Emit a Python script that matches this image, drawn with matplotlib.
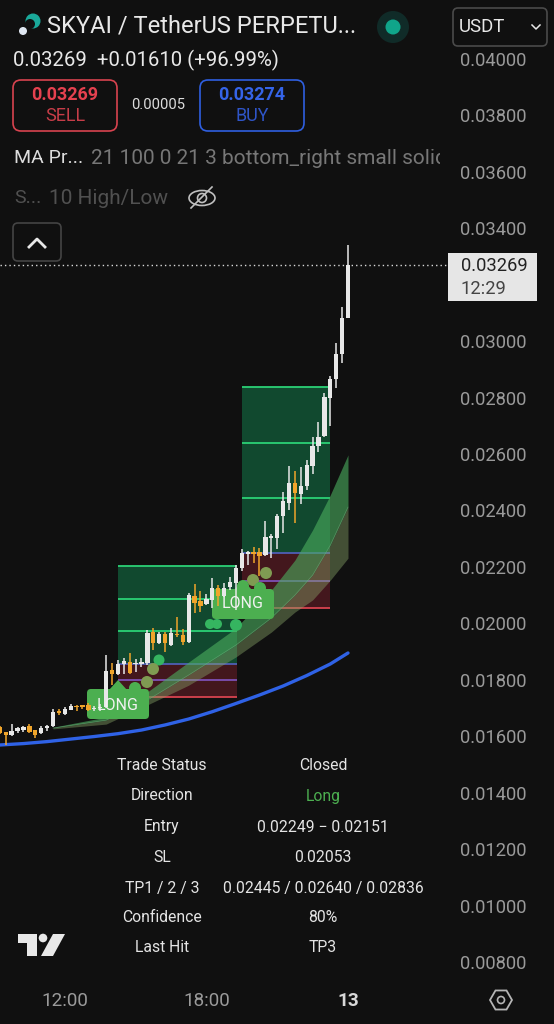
import matplotlib
matplotlib.use("Agg")
import matplotlib.pyplot as plt
from matplotlib.patches import FancyBboxPatch, Circle, Ellipse, Polygon, Rectangle, RegularPolygon

plt.rcParams['font.family'] = ['Roboto', 'DejaVu Sans']

# 15m candles, index 59 is the 00:00 bar of the 13th
opens = [.01631, .01615, .01604, .01618, .01622, .01636, .01622, .01610, .01628, .01636,
         .01689, .01680, .01694, .01708, .01709, .01711, .01695, .01699, .01705, .01835,
         .01820, .01856, .01864, .01855, .01856, .01858, .01969, .01931, .01962, .01923,
         .01964, .01960, .01933, .02097, .02079, .02067, .02083, .02126, .02098, .02130,
         .02144, .02195, .02246, .02254, .02254, .02243, .02301, .02302, .02381, .02426,
         .02499, .02459, .02487, .02559, .02629, .02665, .02800, .02866, .02953, .03083]
highs = [.01636, .01615, .01643, .01634, .01637, .01644, .01622, .01637, .01640, .01696,
         .01698, .01702, .01715, .01711, .01712, .01719, .01707, .01713, .01888, .01858,
         .01870, .01879, .01894, .01872, .01879, .01976, .01982, .01970, .01970, .01982,
         .02021, .01979, .02109, .02139, .02114, .02104, .02161, .02136, .02144, .02163,
         .02207, .02263, .02258, .02271, .02266, .02364, .02315, .02388, .02464, .02558,
         .02541, .02553, .02579, .02660, .02712, .02817, .02877, .02992, .03120, .03340]
lows = [.01608, .01569, .01601, .01610, .01615, .01610, .01594, .01608, .01618, .01634,
        .01675, .01676, .01693, .01690, .01695, .01688, .01690, .01690, .01699, .01781,
        .01817, .01820, .01820, .01829, .01846, .01852, .01905, .01927, .01899, .01921,
        .01953, .01922, .01931, .02035, .02041, .02064, .02054, .02061, .02092, .02118,
        .02047, .02184, .02207, .02213, .02168, .02237, .02231, .02264, .02319, .02400,
        .02355, .02423, .02473, .02529, .02608, .02660, .02699, .02835, .02921, .03083]
closes = [.01610, .01603, .01620, .01628, .01631, .01615, .01604, .01630, .01635, .01685,
          .01681, .01696, .01708, .01703, .01703, .01693, .01700, .01705, .01831, .01820,
          .01857, .01866, .01823, .01861, .01862, .01967, .01931, .01962, .01929, .01967,
          .01959, .01934, .02099, .02073, .02061, .02085, .02126, .02097, .02127, .02145,
          .02197, .02249, .02254, .02246, .02239, .02305, .02308, .02379, .02432, .02499,
          .02461, .02487, .02560, .02627, .02660, .02803, .02867, .02953, .03082, .03269]

ma_idx = [0, 4, 8, 12, 16, 20, 24, 28, 32, 36, 40, 44, 48, 52, 56, 59]
ma_blue = [.01569, .01574, .01581, .01590, .01599, .01609, .01622, .01640,
           .01661, .01687, .01716, .01746, .01778, .01815, .01856, .01895]

band_idx = [9, 18, 25, 32, 40, 46, 50, 53, 56, 59]
band_upper = [.01632, .01668, .01757, .01863, .01983, .02118, .02224, .02331, .02455, .02597]
band_mid = [.01629, .01657, .01728, .01817, .01923, .02019, .02100, .02171, .02277, .02412]
band_lower = [.01626, .01643, .01711, .01781, .01881, .01969, .02040, .02083, .02153, .02231]

# start, end, tp3, tp2, tp1, entry high, entry low, sl
trade1 = [20, 40.2, .02203, .02086, .01972, .01855, .01798, .01740]
trade2 = [41, 56, .02836, .02640, .02445, .02249, .02151, .02053]

# 0.03200 sits behind the last price tag in the app, so it is not listed
price_ticks = [.04, .038, .036, .034, .03, .028, .026, .024, .022, .02, .018, .016, .014, .012, .01, .008]
time_idx = [11, 35, 59]
time_labels = ['12:00', '18:00', '13']
last_price = .03269

table_left = ['Trade Status', 'Direction', 'Entry', 'SL', 'TP1 / 2 / 3', 'Confidence', 'Last Hit']
table_right = ['Closed', 'Long', '0.02249 − 0.02151', '0.02053', '0.02445 / 0.02640 / 0.02836', '80%', 'TP3']
table_y = [766, 796, 827, 858, 888, 918, 948]

BG = '#101010'
WHITE = '#e8e8e8'
ORANGE = '#f0a52b'

fig = plt.figure(figsize=(5.54, 10.24), dpi=100, facecolor=BG)
# chart area ends at the price scale and above the time scale
ax = fig.add_axes([0, 40 / 1024, 447 / 554, 984 / 1024], zorder=1)
ax.set_facecolor(BG)
ax.set_xlim(0.02, 75.78)
ax.set_ylim(.00722, .04209)
for s in ax.spines.values():
    s.set_visible(False)

# overlay in pixel coordinates for the app chrome
ui = fig.add_axes([0, 0, 1, 1], zorder=2)
ui.set_xlim(0, 554)
ui.set_ylim(1024, 0)
ui.axis('off')
ui.patch.set_alpha(0)


def box(x0, y0, x1, y1, fc='none', ec='none', lw=1.2, r=5, target=ui, z=3):
    p = FancyBboxPatch((x0, y0), x1 - x0, y1 - y0, boxstyle=f'round,pad=0,rounding_size={r}',
                       fc=fc, ec=ec, lw=lw, transform=ui.transData, zorder=z, clip_on=False)
    target.add_patch(p)


# trade boxes
for t in [trade1, trade2]:
    xs = [t[0], t[1]]
    ax.fill_between(xs, t[5], t[2], color='#11492f', lw=0, zorder=1)
    ax.fill_between(xs, t[7], t[5], color='#43171d', lw=0, zorder=1)
    ax.hlines(t[2:5], t[0], t[1], color='#2bd175', lw=1.3, zorder=2)
    ax.hlines(t[5], t[0], t[1], color='#4f5fb5', lw=1.3, zorder=2)
    ax.hlines(t[6], t[0], t[1], color='#7d50b5', lw=1.3, zorder=2)
    ax.hlines(t[7], t[0], t[1], color='#d8434f', lw=1.3, zorder=2)

# cloud between the averages
ax.fill_between(band_idx, band_mid, band_upper, color='#4caf5f', alpha=.6, lw=0, zorder=2.5)
ax.fill_between(band_idx, band_lower, band_mid, color='#8aa86a', alpha=.42, lw=0, zorder=2.5)
ax.plot(band_idx, band_mid, color='#7fb98a', lw=.5, alpha=.45, zorder=2.6)

ax.plot(ma_idx, ma_blue, color='#2f62e6', lw=2.4, zorder=3, solid_capstyle='round')

# signal labels, candles run across them
for x0, y0, cx, txt_y in [(87, 689, 118, 705), (212, 589, 243, 604)]:
    box(x0, y0, x0 + 62, y0 + 30, fc='#4caf50', r=4, target=ax, z=4)
    ax.add_patch(Polygon([(cx - 9, y0 + 1), (cx, y0 - 9), (cx + 9, y0 + 1)], fc='#4caf50', lw=0,
                         transform=ui.transData, zorder=4))
    ax.text(cx, txt_y, 'LONG', color='#f2f2f2', fontsize=11.5, ha='center', va='center',
            transform=ui.transData, zorder=7)

for cx, cy, r, col in [(159, 660, 5.5, '#35b560'), (153, 669, 6, '#7f9b52'), (147, 682, 6, '#7f9b52'),
                       (135, 688, 6, '#4caf50'), (266, 573, 6, '#7f9b52'), (253, 580, 6, '#7f9b52'),
                       (260, 588, 6, '#4caf50'), (243, 586, 6, '#4caf50'),
                       (210, 624, 5, '#35b560'), (217, 624, 5, '#35b560'), (236, 625, 6, '#35b560')]:
    ax.add_patch(Circle((cx, cy), r, fc=col, lw=0, transform=ui.transData, zorder=3.5))

# candles
for i in range(len(opens)):
    c = WHITE if closes[i] >= opens[i] else ORANGE
    ax.vlines(i, lows[i], highs[i], color=c, lw=1.1, zorder=5)
    ax.bar(i, abs(closes[i] - opens[i]), bottom=min(opens[i], closes[i]), width=.74, color=c, lw=0, zorder=5)

ax.axhline(last_price, color='#d8d8d8', lw=1.0, ls=(0, (1, 2.2)), zorder=2)

ax.yaxis.tick_right()
ax.set_yticks(price_ticks)
ax.set_yticklabels([f'{p:.5f}' for p in price_ticks])
ax.tick_params(axis='y', length=0, pad=9.5, labelsize=13.2, labelcolor='#9a9a9a')
ax.set_xticks(time_idx)
ax.set_xticklabels(time_labels)
ax.tick_params(axis='x', length=0, pad=6, labelsize=13.6, labelcolor='#9a9a9a')
ax.get_xticklabels()[2].set_fontweight('bold')
ax.get_xticklabels()[2].set_color('#d8d8d8')

# header
ui.add_patch(Circle((33, 21), 7.5, fc='#1aa99a', lw=0))
ui.add_patch(Circle((30, 24), 5, fc=BG, lw=0))
ui.add_patch(Circle((23, 31), 4, fc='#dfe6f0', lw=0))
ui.text(47, 26, 'SKYAI / TetherUS PERPETU...', color=WHITE, fontsize=17, va='center')
ui.add_patch(Circle((393, 27), 16, fc='#102b28', lw=0))
ui.add_patch(Circle((393, 27), 7.5, fc='#10a58a', lw=0))
box(453, 8, 547, 46, ec='#4a4a4a')
ui.text(459, 27, 'USDT', color=WHITE, fontsize=13.4, va='center')
ui.plot([532, 536, 540], [25, 29, 25], color=WHITE, lw=1.1)

ui.text(13, 60, '0.03269  +0.01610 (+96.99%)', color=WHITE, fontsize=14.7, va='center')

box(13, 80, 117, 131, ec='#d8434f', r=8)
ui.text(65, 95, '0.03269', color='#e5414f', fontsize=13, fontweight='bold', ha='center', va='center')
ui.text(65, 116, 'SELL', color='#c63d48', fontsize=13, ha='center', va='center')
ui.text(158, 105, '0.00005', color='#dddddd', fontsize=10.6, ha='center', va='center')
box(200, 80, 304, 131, ec='#2f5fe0', r=8)
ui.text(252, 95, '0.03274', color='#3564e8', fontsize=13, fontweight='bold', ha='center', va='center')
ui.text(252, 116, 'BUY', color='#2f55c8', fontsize=13, ha='center', va='center')

ui.text(14, 158, 'MA Pr...', color='#dddddd', fontsize=14, va='center')
t = ui.text(91, 158, '21 100 0 21 3 bottom_right small solid', color='#777777', fontsize=15, va='center',
            clip_on=True)
t.set_clip_path(Rectangle((0, 0), 440, 1024, transform=ui.transData))
ui.text(14, 198, 'S...', color='#505050', fontsize=14, va='center')
ui.text(49, 198, '10 High/Low', color='#505050', fontsize=15, va='center')
ui.add_patch(Ellipse((202, 198), 26, 15, fc='none', ec='#c0c0c0', lw=1.2))
ui.add_patch(Circle((202, 198), 4.5, fc='none', ec='#c0c0c0', lw=1.2))
ui.plot([191, 212], [208, 187], color='#c0c0c0', lw=1.2)

box(13, 223, 61, 261, ec='#444444')
ui.plot([29, 37, 45], [247, 239, 247], color=WHITE, lw=2)

# last price tag
ui.add_patch(Rectangle((448, 253), 89, 48, fc='#e6e6e6', lw=0))
ui.text(461, 266, '0.03269', color='#222222', fontsize=13.2, va='center')
ui.text(461, 289, '12:29', color='#444444', fontsize=13.2, va='center')

# signal table
for y, a, b in zip(table_y, table_left, table_right):
    ui.text(162, y, a, color='#e4e4e4', fontsize=11.3, ha='center', va='center')
    ui.text(323, y, b, color='#4caf50' if b == 'Long' else '#e4e4e4', fontsize=11.3, ha='center', va='center')

# TV logo and settings icon
ui.add_patch(Polygon([(18, 934), (37, 934), (37, 956), (27, 956), (27, 943), (18, 943)], fc='#e8e8e8', lw=0))
ui.add_patch(Circle((43, 938), 4.3, fc='#e8e8e8', lw=0))
ui.add_patch(Polygon([(53, 934), (65, 934), (53, 956), (41, 956)], fc='#e8e8e8', lw=0))
ui.add_patch(RegularPolygon((501, 1000), 6, radius=11, orientation=0.5236, fc='none', ec='#b5b5b5', lw=1.3))
ui.add_patch(Circle((501, 1000), 3.5, fc='none', ec='#b5b5b5', lw=1.2))

fig.savefig('out.png', dpi=100, facecolor=BG)
